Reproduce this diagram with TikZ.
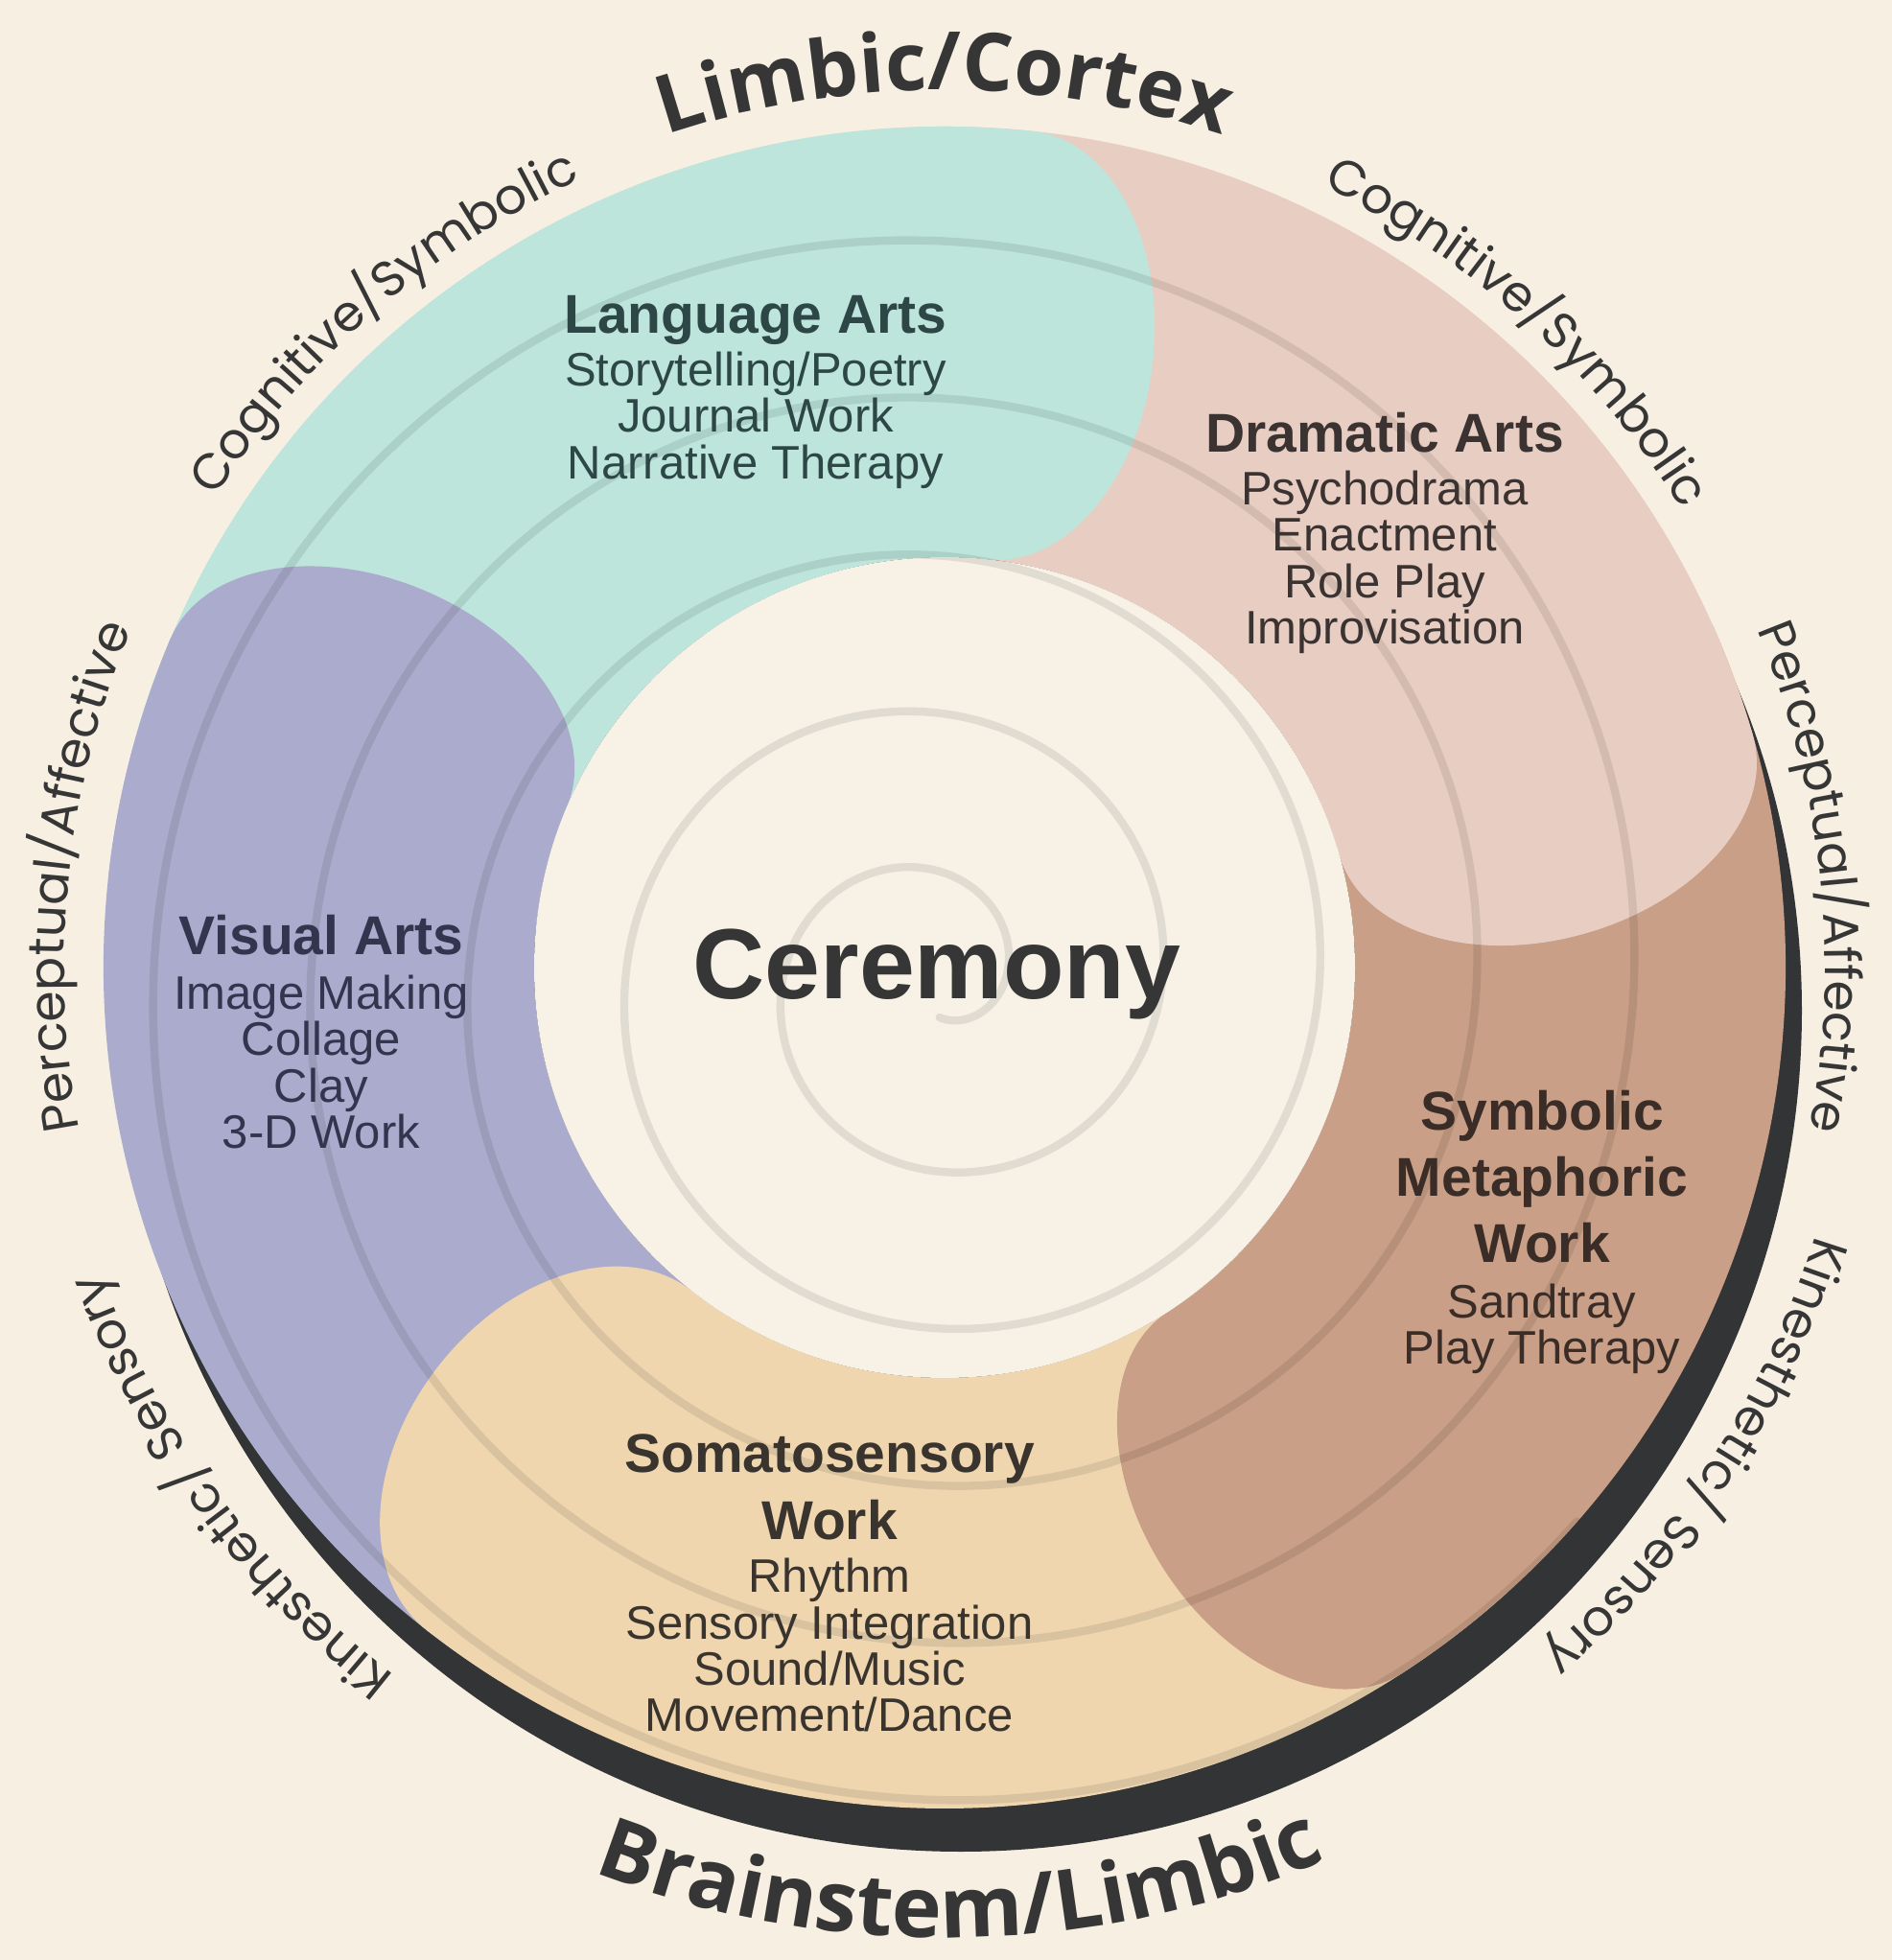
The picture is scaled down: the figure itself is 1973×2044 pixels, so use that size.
\documentclass[tikz,border=0pt]{standalone}
\usepackage{fontspec}
\setmainfont{Liberation Sans}
\newfontfamily\arcfont{Open Sans}
\newfontfamily\sidefont{Poppins}
\usetikzlibrary{decorations.text}

\definecolor{bg}{HTML}{F7F0E2}
\definecolor{core}{HTML}{F8F2E6}
\definecolor{bandteal}{HTML}{BDE5DB}
\definecolor{bandpink}{HTML}{E8CEC2}
\definecolor{bandbrown}{HTML}{CA9F87}
\definecolor{bandtan}{HTML}{EFD6AF}
\definecolor{bandlav}{HTML}{ABABCD}
\definecolor{rimdark}{HTML}{333436}
\definecolor{ink}{HTML}{363636}
\definecolor{inkteal}{HTML}{2D4646}
\definecolor{inklav}{HTML}{33344D}
\definecolor{inkpink}{HTML}{3B3331}
\definecolor{inkbrown}{HTML}{3A2C26}
\definecolor{inktan}{HTML}{3A342E}

% annular sector of the ring, swept clockwise from #2 to #3
\newcommand\bandbody[3]{%
  \fill[#1] (#2:877) arc[start angle=#2, end angle=#3, radius=877]
    -- (#3:428) arc[start angle=#3, end angle=#2, radius=428] -- cycle;}
% rounded (elliptic) leading end of a band at angle #2, tangential half-length #3
\newcommand\bandcap[3]{%
  \begin{scope}[shift={(#2:652.5)}, rotate=#2]
    \fill[#1] (0,0) ellipse[x radius=224.5, y radius=#3];
  \end{scope}}

\newcommand\titlef{\bfseries\fontsize{28.5}{31}\selectfont}
\newcommand\toparc{\arcfont\bfseries\fontsize{42}{42}\selectfont}
\newcommand\bottomarc{\arcfont\bfseries\fontsize{44}{44}\selectfont}
\newcommand\smallarc{\sidefont\fontsize{26}{26}\selectfont}

\begin{document}
\begin{tikzpicture}[x=0.5pt, y=0.5pt,
  blk/.style={align=center, inner sep=0pt, font=\fontsize{24.5}{24.1}\selectfont},
  spiral/.style={draw=black, draw opacity=0.09, line width=4.2pt, line cap=round},
  arclabel/.style={decorate, decoration={text along path, text align=center, text color=ink, text={#1}}}
]
\useasboundingbox (-985,-1035) rectangle (988,1009);
\fill[bg] (-985,-1035) rectangle (988,1009);

% drop shadow under the ring
\fill[rimdark] (17,-45) circle[radius=877];

% the five bands, each leading end lying over the next band's start
\bandbody{bandlav}{238}{157}
\bandbody{bandtan}{-48}{-128}
\bandcap{bandtan}{-128}{160}
\bandbody{bandbrown}{24}{-57}
\bandcap{bandbrown}{-57}{150}
\bandbody{bandpink}{95}{16}
\bandcap{bandpink}{16}{150}
\bandbody{bandteal}{165}{84}
\bandcap{bandteal}{84}{150}
% visual arts end overlaps the language arts start
\bandbody{bandlav}{174}{157}
\bandcap{bandlav}{157}{150}

% centre disc
\fill[core] (0,0) circle[radius=428];

% spiral
\begin{scope}
  \clip (0,0) circle[radius=877];
  \draw[spiral] plot[domain=-80:1760, samples=600, smooth, variable=\t]
    ({-12+(75+\t/360*164)*cos(\t)}, {-14+(75+\t/360*164)*sin(\t)});
\end{scope}

% block texts
\node[blk, text=inkteal] (lang) at (-197,600) {{\titlef Language Arts}\\[3.3pt]
  Storytelling/Poetry\\ Journal Work\\ Narrative Therapy};
\node[blk, text=inkpink] (drama) at (459,453) {{\titlef Dramatic Arts}\\[3.3pt]
  Psychodrama\\ Enactment\\ Role Play\\ Improvisation};
\node[blk, text=inklav] (visual) at (-650,-67) {{\titlef Visual Arts}\\[4.5pt]
  Image Making\\ Collage\\ Clay\\ 3-D Work};
\node[blk, text=inkbrown] (symbolic) at (623,-276) {{\titlef Symbolic}\\[7pt]
  {\titlef Metaphoric}\\[7pt]{\titlef Work}\\[5pt] Sandtray\\ Play Therapy};
\node[blk, text=inktan] (soma) at (-120,-642) {{\titlef Somatosensory}\\[7pt]
  {\titlef Work}\\[3.8pt] Rhythm\\ Sensory Integration\\ Sound/Music\\ Movement/Dance};
\node[text=ink, inner sep=0pt, font=\bfseries\fontsize{52}{52}\selectfont] (ceremony) at (-8,-7) {Ceremony};

% curved outer labels
\path[arclabel={|\toparc|Limbic/Cortex}] (140:915) arc[start angle=140, end angle=40, radius=915];
\path[arclabel={|\bottomarc|Brainstem/Limbic}] (-139:1012) arc[start angle=-139, end angle=-39, radius=1012];

\path[arclabel={|\smallarc|Cognitive/Symbolic}] (176:905) arc[start angle=176, end angle=86, radius=905];
\path[arclabel={|\smallarc|Cognitive/Symbolic}] (93:905) arc[start angle=93, end angle=3, radius=905];
\path[arclabel={|\smallarc|Perceptual/Affective}] (219:918) arc[start angle=219, end angle=129, radius=918];
\path[arclabel={|\smallarc|Perceptual/Affective}] (51:918) arc[start angle=51, end angle=-39, radius=918];
\path[arclabel={|\smallarc|Kinesthetic/ Sensory}] (261:935) arc[start angle=261, end angle=171, radius=935];
\path[arclabel={|\smallarc|Kinesthetic/ Sensory}] (12:950) arc[start angle=12, end angle=-78, radius=950];
\end{tikzpicture}
\end{document}
